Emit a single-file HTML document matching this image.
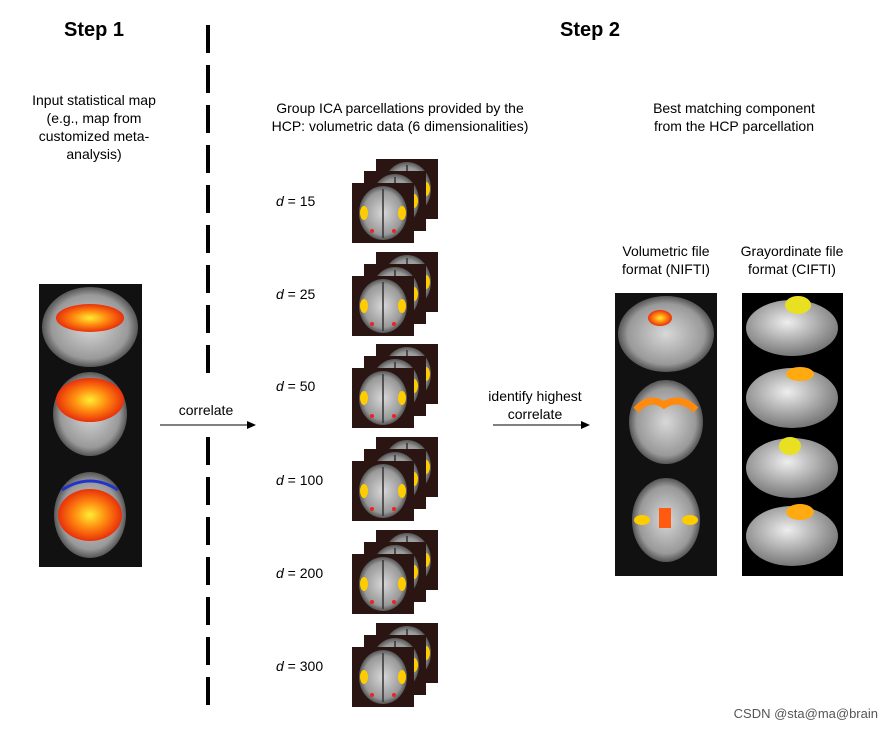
<!DOCTYPE html>
<html><head><style>
body{margin:0;background:#fff;width:892px;height:730px;overflow:hidden;font-family:"Liberation Sans",Arial,sans-serif}
</style></head><body>
<svg width="892" height="730" xmlns="http://www.w3.org/2000/svg" font-family="Liberation Sans, Arial, sans-serif">
<defs>
<radialGradient id="br" cx="50%" cy="50%" r="50%"><stop offset="0" stop-color="#d8d8d8"/><stop offset="0.8" stop-color="#999"/><stop offset="1" stop-color="#555"/></radialGradient>
<radialGradient id="hot" cx="50%" cy="50%" r="50%"><stop offset="0" stop-color="#ffee33"/><stop offset="0.5" stop-color="#ff8a10"/><stop offset="1" stop-color="#e8300a"/></radialGradient>
<radialGradient id="ctx" cx="45%" cy="40%" r="60%"><stop offset="0" stop-color="#eee"/><stop offset="1" stop-color="#777"/></radialGradient>
<g id="sl">
<rect width="62" height="60" fill="#2a1512"/>
<ellipse cx="31" cy="30" rx="24" ry="27" fill="url(#br)"/>
<line x1="31" y1="6" x2="31" y2="55" stroke="#333" stroke-width="1.5"/>
<ellipse cx="12" cy="30" rx="4" ry="7" fill="#ffcc00"/>
<ellipse cx="50" cy="30" rx="4" ry="7" fill="#ffcc00"/>
<circle cx="20" cy="48" r="2" fill="#e22"/><circle cx="42" cy="48" r="2" fill="#e22"/>
</g>
<g id="stk">
<use href="#sl" x="24" y="-24"/><use href="#sl" x="12" y="-12"/><use href="#sl" x="0" y="0"/>
</g>
</defs>

<text x="94" y="36" font-size="20" font-weight="bold" text-anchor="middle">Step 1</text>
<text x="590" y="36" font-size="20" font-weight="bold" text-anchor="middle">Step 2</text>

<line x1="208" y1="25" x2="208" y2="383" stroke="#000" stroke-width="4" stroke-dasharray="28,12"/>
<line x1="208" y1="437" x2="208" y2="714" stroke="#000" stroke-width="4" stroke-dasharray="28,12"/>

<g font-size="14" text-anchor="middle">
<text x="94" y="105">Input statistical map</text>
<text x="94" y="123">(e.g., map from</text>
<text x="94" y="141">customized meta-</text>
<text x="94" y="159">analysis)</text>
<text x="400" y="113">Group ICA parcellations provided by the</text>
<text x="400" y="131">HCP: volumetric data (6 dimensionalities)</text>
<text x="734" y="113">Best matching component</text>
<text x="734" y="131">from the HCP parcellation</text>
<text x="666" y="256">Volumetric file</text>
<text x="666" y="274">format (NIFTI)</text>
<text x="792" y="256">Grayordinate file</text>
<text x="792" y="274">format (CIFTI)</text>
<text x="206" y="415">correlate</text>
<text x="535" y="401">identify highest</text>
<text x="535" y="419">correlate</text>
</g>
<g font-size="14">
<text x="276" y="206"><tspan font-style="italic">d</tspan> = 15</text>
<text x="276" y="299"><tspan font-style="italic">d</tspan> = 25</text>
<text x="276" y="391"><tspan font-style="italic">d</tspan> = 50</text>
<text x="276" y="485"><tspan font-style="italic">d</tspan> = 100</text>
<text x="276" y="578"><tspan font-style="italic">d</tspan> = 200</text>
<text x="276" y="671"><tspan font-style="italic">d</tspan> = 300</text>
</g>

<line x1="160" y1="425" x2="250" y2="425" stroke="#000" stroke-width="1"/>
<polygon points="256,425 247,421 247,429" fill="#000"/>
<line x1="493" y1="425" x2="583" y2="425" stroke="#000" stroke-width="1"/>
<polygon points="590,425 581,421 581,429" fill="#000"/>

<use href="#stk" x="352" y="183"/>
<use href="#stk" x="352" y="276"/>
<use href="#stk" x="352" y="368"/>
<use href="#stk" x="352" y="461"/>
<use href="#stk" x="352" y="554"/>
<use href="#stk" x="352" y="647"/>

<!-- left panel -->
<rect x="39" y="284" width="103" height="283" fill="#111"/>
<ellipse cx="90" cy="327" rx="48" ry="40" fill="url(#br)"/>
<ellipse cx="90" cy="318" rx="34" ry="14" fill="url(#hot)"/>
<ellipse cx="90" cy="414" rx="37" ry="42" fill="url(#br)"/>
<ellipse cx="90" cy="400" rx="34" ry="22" fill="url(#hot)"/>
<ellipse cx="90" cy="515" rx="36" ry="43" fill="url(#br)"/>
<ellipse cx="90" cy="515" rx="32" ry="26" fill="url(#hot)"/>
<path d="M62,490 Q90,472 118,490" stroke="#2233cc" stroke-width="3" fill="none"/>

<!-- right vol panel -->
<rect x="615" y="293" width="102" height="283" fill="#111"/>
<ellipse cx="666" cy="334" rx="48" ry="38" fill="url(#br)"/>
<ellipse cx="660" cy="318" rx="12" ry="8" fill="url(#hot)"/>
<ellipse cx="666" cy="422" rx="37" ry="42" fill="url(#br)"/>
<path d="M636,410 Q650,395 664,405 Q680,395 696,410" stroke="#ff8a10" stroke-width="7" fill="none"/>
<ellipse cx="666" cy="520" rx="34" ry="42" fill="url(#br)"/>
<rect x="659" y="508" width="12" height="20" fill="#ff5a10"/>
<ellipse cx="642" cy="520" rx="8" ry="5" fill="#ffcc00"/>
<ellipse cx="690" cy="520" rx="8" ry="5" fill="#ffcc00"/>

<!-- cortical panel -->
<rect x="742" y="293" width="101" height="283" fill="#000"/>
<ellipse cx="792" cy="328" rx="46" ry="28" fill="url(#ctx)"/>
<ellipse cx="798" cy="305" rx="13" ry="9" fill="#e8e020"/>
<ellipse cx="792" cy="398" rx="46" ry="30" fill="url(#ctx)"/>
<ellipse cx="800" cy="374" rx="14" ry="7" fill="#ffaa10"/>
<ellipse cx="792" cy="468" rx="46" ry="30" fill="url(#ctx)"/>
<ellipse cx="790" cy="446" rx="11" ry="9" fill="#e8e020"/>
<ellipse cx="792" cy="536" rx="46" ry="30" fill="url(#ctx)"/>
<ellipse cx="800" cy="512" rx="14" ry="8" fill="#ffaa10"/>

<text x="878" y="718" font-size="13" fill="#555" text-anchor="end" font-family="Liberation Sans, Noto Sans CJK SC, sans-serif">CSDN @sta@ma@brain</text>
</svg>
</body></html>
